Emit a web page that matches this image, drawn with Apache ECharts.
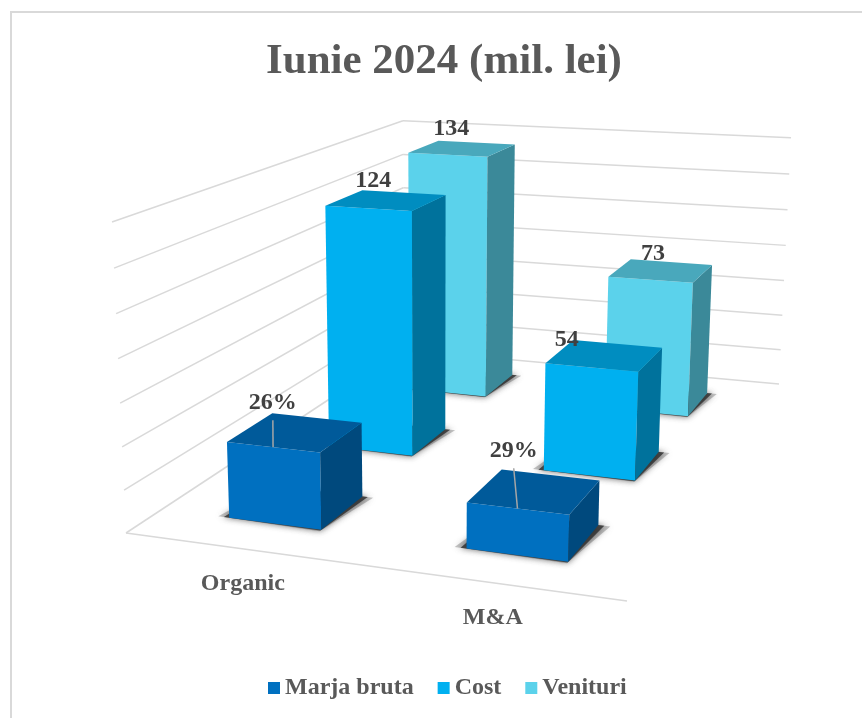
<!DOCTYPE html>
<html>
<head>
<meta charset="utf-8">
<title>Iunie 2024</title>
<script src="https://cdn.jsdelivr.net/npm/echarts@6/dist/echarts.min.js"></script>
<style>
  html, body { margin: 0; padding: 0; background: #fff; }
  #chart { width: 862px; height: 718px; }
</style>
</head>
<body>
<div id="chart"></div>
<script>
// date
const categories = ['Organic', 'M&A'];
const seriesNames = ['Marja bruta', 'Cost', 'Venituri'];
const marjaValues = [36, 21];
const costValues = [124, 54];
const venituriValues = [134, 73];
const marjaLabels = ['26%', '29%'];
const costLabels = ['124', '54'];
const venituriLabels = ['134', '73'];
const yTicks = [0, 20, 40, 60, 80, 100, 120, 140];

const FONT = '"Liberation Serif", "Times New Roman", serif';
const TEXT_GREY = '#595959';
const LABEL_GREY = '#404040';
const GRID_GREY = '#D9D9D9';

// [fata, sus, lateral]
const faceColors = [
  ['#0070C0', '#005A9A', '#00497D'],
  ['#00B0F0', '#008DC0', '#00729C'],
  ['#5BD2EB', '#49A8BC', '#3B8999']
];

const BAR_WIDTH = 0.2;
const BAR_DEPTH = 0.14;
const BAR_SHIFT_V = 0.002;

// camera: colturile podelei si punctul de fuga vertical
const floorCorners = [[126, 533], [627, 601], [779, 384], [404, 350]];
const vanish = [436, 7417];
const wallTopY = 222;

function buildCamera() {
  const [p0, p1, p2, p3] = floorCorners;
  const dx1 = p1[0] - p2[0], dx2 = p3[0] - p2[0], sx = p0[0] - p1[0] + p2[0] - p3[0];
  const dy1 = p1[1] - p2[1], dy2 = p3[1] - p2[1], sy = p0[1] - p1[1] + p2[1] - p3[1];
  const den = dx1 * dy2 - dx2 * dy1;
  const g = (sx * dy2 - dx2 * sy) / den;
  const h = (dx1 * sy - sx * dy1) / den;
  return {
    a: p1[0] - p0[0] + g * p1[0], b: p3[0] - p0[0] + h * p3[0], c: p0[0],
    d: p1[1] - p0[1] + g * p1[1], e: p3[1] - p0[1] + h * p3[1], f: p0[1],
    g, h,
    s: (wallTopY - p0[1]) / (vanish[1] - wallTopY)
  };
}
const cam = buildCamera();

// u = latime, v = adancime, t = inaltime (0..1)
function project(u, v, t) {
  const k = cam.s * t;
  const w = cam.g * u + cam.h * v + 1 + k;
  return [
    (cam.a * u + cam.b * v + cam.c + k * vanish[0]) / w,
    (cam.d * u + cam.e * v + cam.f + k * vanish[1]) / w
  ];
}

// pozitia normalizata vine din axele (ascunse) ale graficului
function toUnit(api, catIndex, value) {
  const pt = api.coord([catIndex, value]);
  return { u: pt[0] / api.getWidth(), t: (api.getHeight() - pt[1]) / api.getHeight() };
}

function rowCenter(row) {
  return (row + 0.5) / seriesNames.length + BAR_SHIFT_V;
}

function poly(points, fill, extra) {
  return { type: 'polygon', shape: { points }, style: Object.assign({ fill }, extra || {}), silent: true };
}

// umbra pe podea: un strat larg si deschis, unul ingust si inchis
function floorShadow(u0, u1, v0, v1, spread, fill) {
  return poly([
    project(u0 - spread, v0, 0), project(u1, v0 - spread * 0.25, 0),
    project(u1 + spread, v1, 0), project(u0, v1, 0)
  ], fill, { shadowBlur: 6, shadowColor: fill });
}

function renderBar(params, api) {
  const row = api.value(2);
  const pos = toUnit(api, api.value(0), api.value(1));
  const u0 = pos.u - BAR_WIDTH / 2, u1 = pos.u + BAR_WIDTH / 2;
  const vMid = rowCenter(row);
  const v0 = vMid - BAR_DEPTH / 2, v1 = vMid + BAR_DEPTH / 2;
  const t = pos.t;
  const colors = faceColors[row];
  return {
    type: 'group',
    children: [
      floorShadow(u0, u1, v0, v1, 0.024, 'rgba(110,110,110,0.4)'),
      floorShadow(u0, u1, v0, v1, 0.012, 'rgba(45,45,45,0.8)'),
      poly([project(u0, v0, 0), project(u1, v0, 0), project(u1, v0, t), project(u0, v0, t)], colors[0]),
      poly([project(u1, v0, 0), project(u1, v1, 0), project(u1, v1, t), project(u1, v0, t)], colors[2]),
      poly([project(u0, v0, t), project(u1, v0, t), project(u1, v1, t), project(u0, v1, t)], colors[1])
    ]
  };
}

function line(a, b) {
  return {
    type: 'line',
    shape: { x1: a[0], y1: a[1], x2: b[0], y2: b[1] },
    style: { stroke: GRID_GREY, lineWidth: 1.5 },
    silent: true
  };
}

function renderWalls(params, api) {
  const t = toUnit(api, 0, api.value(0)).t;
  const children = [line(project(0, 0, t), project(0, 1, t)), line(project(0, 1, t), project(1, 1, t))];
  if (api.value(0) === 0) children.push(line(project(0, 0, 0), project(1, 0, 0)));
  return { type: 'group', children };
}

function renderCategory(params, api) {
  const pos = toUnit(api, api.value(0), 0);
  const p = project(pos.u, 0, 0);
  return {
    type: 'text',
    silent: true,
    style: {
      x: p[0] + 1, y: p[1] + 35,
      text: categories[api.value(0)],
      fill: TEXT_GREY,
      font: 'bold 24px ' + FONT,
      align: 'center', verticalAlign: 'middle'
    }
  };
}

// deplasarea etichetelor fata de centrul capacului
const labelShift = [
  [[-22.5, -29], [-20.5, -40]],
  [[-13, -19], [-38, -16]],
  [[-11, -20], [-8, -16.5]]
];

function renderLabel(params, api) {
  const cat = api.value(0), row = api.value(2);
  const pos = toUnit(api, cat, api.value(1));
  const vMid = rowCenter(row);
  const c = project(pos.u, vMid, pos.t);
  const shift = labelShift[row][cat];
  const x = c[0] + shift[0], y = c[1] + shift[1];
  const children = [];
  if (row === 0) {
    const edge = project(pos.u, vMid - BAR_DEPTH / 2, pos.t);
    children.push({
      type: 'line',
      shape: { x1: x, y1: y + 17, x2: edge[0], y2: edge[1] },
      style: { stroke: '#A6A6A6', lineWidth: 1.5 },
      silent: true
    });
  }
  children.push({
    type: 'text',
    silent: true,
    style: {
      x, y,
      text: labelRows[row][cat],
      fill: LABEL_GREY,
      font: 'bold 24px ' + FONT,
      align: 'center', verticalAlign: 'middle'
    }
  });
  return { type: 'group', children };
}

const valueRows = [marjaValues, costValues, venituriValues];
const labelRows = [marjaLabels, costLabels, venituriLabels];
const labelData = [];
valueRows.forEach((vals, row) => {
  vals.forEach((v, cat) => labelData.push([cat, v, row]));
});

const chart = echarts.init(document.getElementById('chart'), null, { renderer: 'canvas' });

const barSeries = seriesNames.map((name, row) => ({
  name,
  type: 'custom',
  renderItem: renderBar,
  coordinateSystem: 'cartesian2d',
  encode: { x: 0, y: 1 },
  itemStyle: { color: faceColors[row][0] },
  z: 5 - row,
  silent: true,
  clip: false,
  data: valueRows[row].map((v, cat) => [cat, v, row])
}));

chart.setOption({
  animation: false,
  backgroundColor: '#fff',
  title: {
    text: 'Iunie 2024 (mil. lei)',
    left: 261,
    top: 35,
    textStyle: { fontFamily: FONT, fontSize: 43, fontWeight: 'bold', color: TEXT_GREY }
  },
  legend: {
    data: seriesNames,
    left: 263,
    top: 671,
    icon: 'rect',
    itemWidth: 12,
    itemHeight: 12,
    itemGap: 24,
    textStyle: { fontFamily: FONT, fontSize: 24, fontWeight: 'bold', color: TEXT_GREY }
  },
  grid: { left: 0, right: 0, top: 0, bottom: 0 },
  xAxis: { type: 'category', data: categories, show: false },
  yAxis: { type: 'value', min: 0, max: 140, interval: 20, show: false },
  graphic: [{
    type: 'polyline',
    silent: true,
    shape: { points: [[11, 718], [11, 12], [862, 12]] },
    style: { stroke: GRID_GREY, lineWidth: 2, fill: null }
  }],
  series: [
    {
      type: 'custom', renderItem: renderWalls, coordinateSystem: 'cartesian2d',
      encode: { y: 0 }, z: 1, silent: true, clip: false,
      data: yTicks.map(t => [t])
    }
  ].concat(barSeries, [
    {
      type: 'custom', renderItem: renderCategory, coordinateSystem: 'cartesian2d',
      encode: { x: 0 }, z: 8, silent: true, clip: false,
      data: categories.map((c, i) => [i])
    },
    {
      type: 'custom', renderItem: renderLabel, coordinateSystem: 'cartesian2d',
      encode: { x: 0, y: 1 }, z: 9, silent: true, clip: false,
      data: labelData
    }
  ])
});
</script>
</body>
</html>
